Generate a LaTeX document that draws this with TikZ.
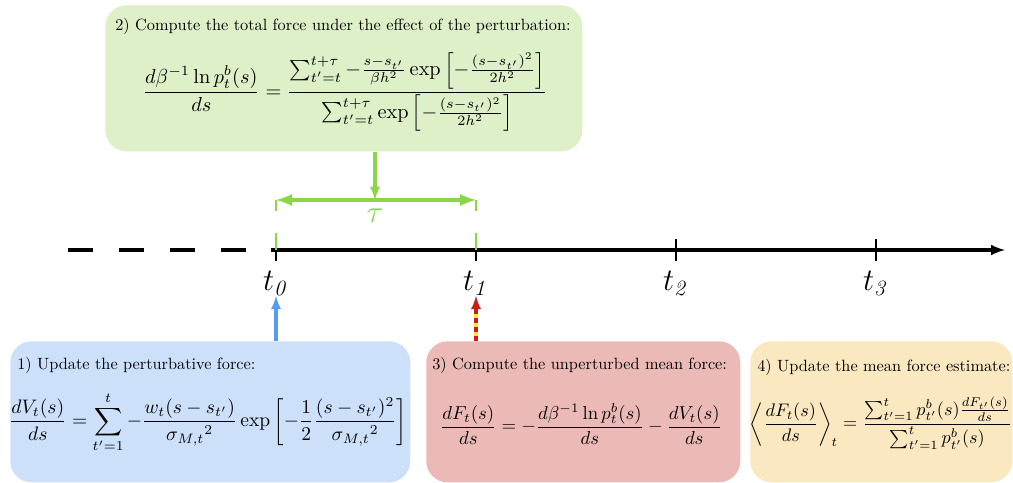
\documentclass[tikz,border=0pt]{standalone}
\usepackage{amsmath}
\usetikzlibrary{positioning}

\tikzset{
  stepbox/.style={rounded corners=14pt, inner sep=0pt, anchor=north west},
  boxtitle/.style={anchor=north west, inner sep=0pt, font=\fontsize{10.75}{13}\selectfont},
  boxeq/.style={inner sep=0pt},
  ticklabel/.style={font=\huge, inner sep=0pt},
}

\begin{document}
\begin{tikzpicture}[x=0.66pt, y=-0.66pt, >=latex]
    \definecolor{cgreen}{RGB}{221, 240, 200} % Green box
    \definecolor{cblue}{RGB}{204, 224, 250}  % Blue box
    \definecolor{cred}{RGB}{236, 186, 182}   % Red box
    \definecolor{cyel}{RGB}{249, 232, 192}   % Yellow box
    \definecolor{lgreen}{RGB}{138, 214, 70}  % Green arrows
    \definecolor{lblue}{RGB}{85, 155, 240}   % Blue arrow
    \definecolor{lred}{RGB}{200, 30, 20}     % Red arrow
    \definecolor{lyel}{RGB}{240, 230, 60}    % Yellow dashes

    \useasboundingbox (0,0) rectangle (1013,483);

    % Boxes
    \node[stepbox, fill=cgreen, minimum width=477*0.66pt, minimum height=146*0.66pt] (box2) at (105,5) {};
    \node[stepbox, fill=cblue, minimum width=400*0.66pt, minimum height=141*0.66pt] (box1) at (10,341) {};
    \node[stepbox, fill=cred, minimum width=314*0.66pt, minimum height=141*0.66pt] (box3) at (426,341) {};
    \node[stepbox, fill=cyel, minimum width=262*0.66pt, minimum height=141*0.66pt] (box4) at (750,341) {};

    % Titles
    \node[boxtitle] (title2) at (115,18) {2) Compute the total force under the effect of the perturbation:};
    \node[boxtitle] (title1) at (17,357) {1) Update the perturbative force:};
    \node[boxtitle] (title3) at (432,357) {3) Compute the unperturbed mean force:};
    \node[boxtitle] (title4) at (757,359) {4) Update the mean force estimate:};

    % Equations
    \node[boxeq] (eq2) at (345,92) {\scalebox{1.34}{$\displaystyle \frac{d\beta^{-1}\ln p_t^b(s)}{ds} = \frac{\sum_{t'=t}^{t+\tau} -\frac{s-s_{t'}}{\beta h^2}\exp\left[-\frac{(s-s_{t'})^2}{2h^2}\right]}{\sum_{t'=t}^{t+\tau}\exp\left[-\frac{(s-s_{t'})^2}{2h^2}\right]}$}};
    \node[boxeq] (eq1) at (208,422) {\scalebox{1.29}{$\displaystyle \frac{dV_t(s)}{ds} = \sum_{t'=1}^{t} -\frac{w_t(s-s_{t'})}{{\sigma_{M,t}}^2}\exp\left[-\frac{1}{2}\frac{(s-s_{t'})^2}{{\sigma_{M,t}}^2}\right]$}};
    \node[boxeq] (eq3) at (581,424) {\scalebox{1.235}{$\displaystyle \frac{dF_t(s)}{ds} = -\frac{d\beta^{-1}\ln p_t^b(s)}{ds} - \frac{dV_t(s)}{ds}$}};
    \node[boxeq] (eq4) at (881,423) {\scalebox{1.2}{$\displaystyle \left\langle\frac{dF_t(s)}{ds}\right\rangle_t = \frac{\sum_{t'=1}^{t} p_{t'}^b(s)\frac{dF_{t'}(s)}{ds}}{\sum_{t'=1}^{t} p_{t'}^b(s)}$}};

    % Time axis
    \coordinate (past) at (68,250);
    \coordinate (t0) at (276,250);
    \coordinate (t1) at (476,250);
    \coordinate (t2) at (676,250);
    \coordinate (t3) at (876,250);
    \coordinate (future) at (1005,250);
    \draw[line width=2.1pt, dash pattern=on 16.6pt off 17pt] (past) -- ([xshift=-18pt]t0);
    \draw[->, line width=2.1pt] ([xshift=-3pt]t0) -- (future);
    \foreach \t in {0,1,2,3} {
      \draw[line width=1.2pt] ([yshift=7pt]t\t) -- ([yshift=-7pt]t\t);
      \node[ticklabel, below=14pt of t\t] (lab\t) {$t_{\mathit{\t}}$};
    }

    % Tau interval
    \coordinate (tau0) at (276,200);
    \coordinate (tau1) at (476,200);
    \draw[lgreen, line width=1pt] (tau0) -- ++(0,11);
    \draw[lgreen, line width=1pt] (tau1) -- ++(0,11);
    \draw[lgreen, line width=1pt] (t0) -- ++(0,-17);
    \draw[lgreen, line width=1pt] (t1) -- ++(0,-17);
    \draw[<->, lgreen, line width=2.6pt] (tau0) -- (tau1);
    \node[ticklabel, text=lgreen] (tau) at (375,216) {$\tau$};
    \draw[->, lgreen, line width=2pt] (box2.south -| tau) -- (tau |- tau0);

    % Arrows from the steps
    \draw[->, lblue, line width=2pt] (box1.north -| t0) -- (lab0.south);
    \draw[lyel, line width=2pt] (box3.north -| t1) -- ([yshift=-8pt]lab1.south);
    \draw[->, lred, line width=2pt, dash pattern=on 3pt off 3pt] (box3.north -| t1) -- (lab1.south);
\end{tikzpicture}
\end{document}
